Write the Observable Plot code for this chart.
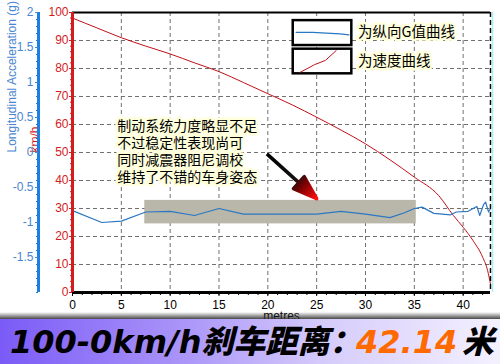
<!DOCTYPE html>
<html><head><meta charset="utf-8">
<script src="https://cdn.jsdelivr.net/npm/d3@7"></script>
<script src="https://cdn.jsdelivr.net/npm/@observablehq/plot@0.6"></script>
<style>
html,body{margin:0;padding:0;background:#fff;overflow:hidden;width:500px;height:364px;}
#wrap{position:relative;width:500px;height:364px;}
#shadow{position:absolute;left:0;top:312px;width:500px;height:7px;background:linear-gradient(180deg,rgba(0,0,0,0),rgba(40,40,40,0.85));}
#banner{position:absolute;left:0;top:319px;width:500px;height:45px;background:linear-gradient(90deg,#7b5bf7 0%,#a892f8 35%,#d6ccfb 65%,#f4f1ff 100%);}
#banner span{position:absolute;top:7px;line-height:32px;font-size:32px;font-style:italic;font-weight:900;font-family:"DejaVu Sans","Noto Sans CJK SC",sans-serif;white-space:nowrap;}
</style>
</head><body>
<div id="wrap"></div>
<script>
// ---- data ----
const speedDist = [0, 2.5, 5, 7.5, 10, 12.5, 15, 17.5, 20, 22.5, 25, 27.5, 30, 32.5, 35, 37.5, 39, 40, 41, 42, 42.5, 42.8];
const speedKmh  = [98, 94.5, 91, 88, 85.2, 82, 78.9, 75, 71, 67, 62.6, 58, 53.1, 47.4, 41.2, 34.6, 27.5, 23.3, 18.6, 12.6, 7.9, 3];
const gDist = [0, 3, 5, 7.5, 10, 12.5, 15, 17.5, 20, 22.5, 25, 27.5, 30, 32.5, 34, 35, 35.8, 37, 38.7, 39.3, 40.5, 41.4, 41.7, 42.1, 42.3, 42.6, 42.8];
const gValue = [-0.83, -1.0, -0.98, -0.85, -0.84, -0.9, -0.80, -0.88, -0.88, -0.88, -0.88, -0.84, -0.88, -0.93, -0.86, -0.80, -0.78, -0.87, -0.89, -0.85, -0.84, -0.77, -0.9, -0.74, -0.71, -0.85, -0.80];
const xTicks = [0, 5, 10, 15, 20, 25, 30, 35, 40];
const speedTicks = [0, 10, 20, 30, 40, 50, 60, 70, 80, 90, 100];
const gTicks = [2, 1.5, 1, 0.5, 0, -0.5, -1, -1.5];
const bandDist = [7.4, 35.2];
const bandKmh = [24.5, 32.9];
const noteLines = ["制动系统力度略显不足", "不过稳定性表现尚可", "同时减震器阻尼调校", "维持了不错的车身姿态"];
const legendLabels = ["为纵向G值曲线", "为速度曲线"];
const titleMain = "100-0km/h刹车距离：";
const titleValue = "42.14";
const titleUnit = "米";

// twin axis mapping: g -> km/h scale position
const gToV = g => (g + 2) * 25;
const vToG = v => v / 25 - 2;

const speed = speedDist.map((d, i) => ({d, v: speedKmh[i]}));
const accel = gDist.map((d, i) => ({d, g: gValue[i]}));

const RED = "#d41c1c", BLUE = "#1c7fe6", BLUE_TXT = "#4a86d0", LINE_BLUE = "#2a78c2", CURVE_RED = "#c0101a";

const arrowShape = {
  draw(ctx, l) {
    const h = 24, w = 8;
    ctx.moveTo(0, 0);
    ctx.lineTo(0, -l + h);
    ctx.moveTo(0, -l);
    ctx.lineTo(-w, -l + h);
    ctx.lineTo(w, -l + h);
    ctx.closePath();
  }
};

const chart = Plot.plot({
  width: 500,
  height: 364,
  marginTop: 12,
  marginBottom: 72,
  marginLeft: 72,
  marginRight: 10,
  style: {fontFamily: "Liberation Sans, Arial, sans-serif", fontSize: "12px", background: "white", overflow: "visible"},
  x: {domain: [0, 42.8], label: null},
  y: {domain: [0, 100], label: null},
  marks: [
    Plot.gridX(xTicks.slice(1), {stroke: "#707070", strokeOpacity: 1, strokeDasharray: "4,3"}),
    Plot.gridY(speedTicks.slice(1, -1), {stroke: "#707070", strokeOpacity: 1, strokeDasharray: "4,3"}),
    Plot.rect([{x1: bandDist[0], x2: bandDist[1], y1: bandKmh[0], y2: bandKmh[1]}], {x1: "x1", x2: "x2", y1: "y1", y2: "y2", fill: "#b9b7a9"}),
    Plot.line(speed, {x: "d", y: "v", stroke: CURVE_RED, strokeWidth: 1, curve: "monotone-x"}),
    Plot.line(accel, {x: "d", y: d => gToV(d.g), stroke: LINE_BLUE, strokeWidth: 1.2}),
    // frame
    Plot.ruleY([100], {stroke: "black", strokeWidth: 2}),
    Plot.ruleX([42.8], {stroke: "black", strokeWidth: 1.5, strokeDasharray: "5,3"}),
    Plot.ruleX([42.8], {stroke: "#a8f0ee", strokeWidth: 1.5, dx: 2}),
    Plot.ruleY([0], {stroke: "black", strokeWidth: 3}),
    // x axis
    Plot.axisX({ticks: d3.range(0, 43, 1), tickSize: 3, tickFormat: () => "", label: null}),
    Plot.axisX({ticks: xTicks, tickSize: 4, tickPadding: 4, fontSize: 12, label: null}),
    Plot.text(["metres"], {frameAnchor: "bottom", lineAnchor: "middle", dy: 24, fontSize: 12, fill: "black"}),
    // red speed axis
    Plot.text(["km/h"], {frameAnchor: "left", dx: -37, rotate: -90, fill: RED, fontSize: 12}),
    Plot.ruleX([0], {stroke: RED, strokeWidth: 3}),
    Plot.axisY({ticks: d3.range(0, 101, 2), tickSize: 2, tickFormat: () => "", color: RED, label: null}),
    Plot.axisY({ticks: speedTicks, tickSize: 3, tickPadding: 1, color: RED, fontSize: 12, label: null}),
    // blue g axis
    Plot.text(["Longitudinal Acceleration (g)"], {frameAnchor: "left", dx: -60, rotate: -90, fill: BLUE_TXT, fontSize: 12}),
    Plot.ruleX([0], {dx: -34, stroke: BLUE, strokeWidth: 3}),
    Plot.axisY({ticks: d3.range(-20, 21, 1).map(k => gToV(k / 10)), dx: -34, tickSize: 2, tickFormat: () => "", color: BLUE, label: null}),
    Plot.axisY({ticks: gTicks.map(gToV), dx: -34, tickSize: 3, tickPadding: 2, color: BLUE_TXT, fontSize: 12, label: null,
      tickFormat: v => String(+vToG(v).toFixed(2))}),
    // annotation
    Plot.text(noteLines.map((t, i) => ({t, x: 4.57, y: 59.2 - i * 6.07})), {x: "x", y: "y", text: "t", textAnchor: "start",
      fontSize: 14, fontFamily: "Noto Sans CJK SC, sans-serif", fill: "black", stroke: "#ffffdc", strokeWidth: 5}),
    Plot.vector([{x: 25.0, y: 33.5}], {x: "x", y: "y", anchor: "end", length: 67, rotate: 132, shape: arrowShape,
      stroke: "url(#arrowGrad)", fill: "url(#arrowGrad)", strokeWidth: 3.5, strokeLinecap: "butt"}),
    // legend
    Plot.rect([{x1: 22.6, x2: 28.6, y1: 88.2, y2: 97.1}, {x1: 22.6, x2: 28.6, y1: 78.1, y2: 86.9}],
      {x1: "x1", x2: "x2", y1: "y1", y2: "y2", fill: "white", stroke: "black", strokeWidth: 2.5}),
    Plot.line([{x: 22.9, y: 92.9}, {x: 24.6, y: 92.9}, {x: 27.4, y: 92.4}, {x: 28.3, y: 92.0}], {x: "x", y: "y", stroke: LINE_BLUE, strokeWidth: 1.2}),
    Plot.line([{x: 23.3, y: 78.6}, {x: 24.8, y: 81.4}, {x: 25.9, y: 82.9}, {x: 27.0, y: 86.4}], {x: "x", y: "y", stroke: CURVE_RED, strokeWidth: 1}),
    Plot.text(legendLabels.map((t, i) => ({t, y: i === 0 ? 92.9 : 82.5})), {x: () => 29.24, y: "y", text: "t", textAnchor: "start",
      fontSize: 14.5, fontFamily: "Noto Sans CJK SC, sans-serif", fill: "black", stroke: "#ffffdc", strokeWidth: 5})
  ]
});

const svg = d3.select(chart);
const defs = svg.insert("defs", ":first-child");
const grad = defs.append("linearGradient").attr("id", "arrowGrad")
  .attr("x1", 0).attr("y1", 1).attr("x2", 0).attr("y2", 0);
grad.append("stop").attr("offset", "0").attr("stop-color", "#000");
grad.append("stop").attr("offset", "0.55").attr("stop-color", "#111");
grad.append("stop").attr("offset", "0.72").attr("stop-color", "#7a0000");
grad.append("stop").attr("offset", "1").attr("stop-color", "#ff1010");

const wrap = document.getElementById("wrap");
wrap.appendChild(chart);
chart.style.position = "absolute";
chart.style.left = "0";
chart.style.top = "0";

const shadow = document.createElement("div"); shadow.id = "shadow"; wrap.appendChild(shadow);
const banner = document.createElement("div"); banner.id = "banner";
const parts = [[titleMain, 10, "#000"], [titleValue, 356, "#ff6a00"], [titleUnit, 462, "#000"]];
for (const [t, left, c] of parts) {
  const s = document.createElement("span");
  s.textContent = t; s.style.left = left + "px"; s.style.color = c;
  banner.appendChild(s);
}
wrap.appendChild(banner);
</script>
</body></html>
